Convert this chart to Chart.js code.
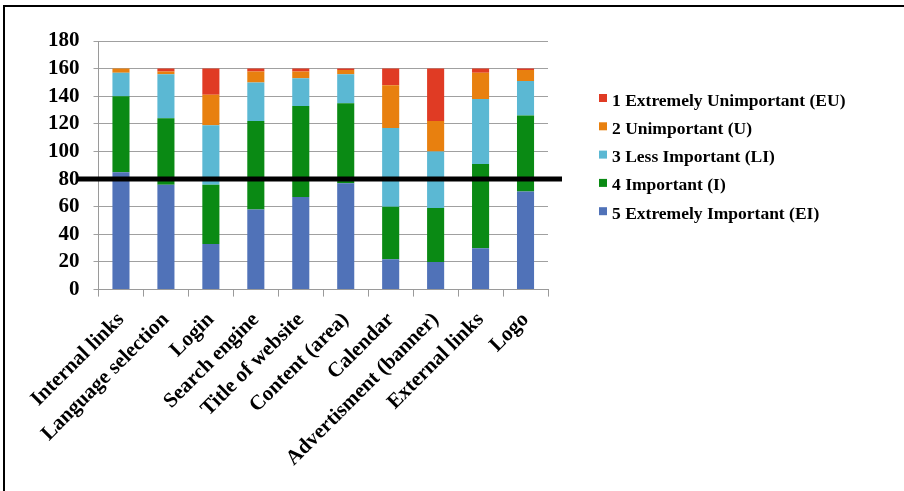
<!DOCTYPE html>
<html>
<head>
<meta charset="utf-8">
<script src="https://cdn.jsdelivr.net/npm/chart.js@4.4.1/dist/chart.umd.min.js"></script>
<style>
  html, body { margin: 0; padding: 0; background: #fff; }
  #wrap { position: relative; width: 904px; height: 491px; overflow: hidden; }
  #frame { position: absolute; left: 3px; top: 5px; width: 1000px; height: 600px;
           border-left: 2px solid #000; border-top: 2px solid #000; pointer-events: none; }
</style>
</head>
<body>
<div id="wrap">
  <canvas id="surveyChart"></canvas>
  <div id="frame"></div>
</div>
<script>
// categories (website elements)
const categories = ['Internal links', 'Language selection', 'Login', 'Search engine', 'Title of website',
  'Content (area)', 'Calendar', 'Advertisment (banner)', 'External links', 'Logo'];

// answers per importance level, bottom of stack first
const extremelyImportant = [85, 76, 33, 58, 67, 77, 22, 20, 30, 71];
const important = [55, 48, 43, 64, 66, 58, 38, 39, 61, 55];
const lessImportant = [17, 32, 43, 28, 20, 21, 57, 41, 47, 25];
const unimportant = [3, 2, 22, 8, 5, 3, 31, 22, 19, 8];
const extremelyUnimportant = [0, 2, 19, 2, 2, 1, 12, 38, 3, 1];

const yTicks = [0, 20, 40, 60, 80, 100, 120, 140, 160, 180];
const thresholdValue = 80;

const serif = '"Liberation Serif", "Times New Roman", serif';

// thick black reference line across the plot
const thresholdLine = {
  id: 'thresholdLine',
  afterDatasetsDraw(chart) {
    const c = chart.ctx;
    const area = chart.chartArea;
    const y = chart.scales.y.getPixelForValue(thresholdValue);
    c.save();
    c.strokeStyle = '#000';
    c.lineWidth = 5;
    c.beginPath();
    c.moveTo(area.left - 21, y);
    c.lineTo(area.right + 14, y);
    c.stroke();
    c.restore();
  }
};

// legend on the right, top item = top of the stack
const sideLegend = {
  id: 'sideLegend',
  afterDraw(chart) {
    const c = chart.ctx;
    const area = chart.chartArea;
    const sets = chart.data.datasets.slice().reverse();
    c.save();
    c.font = 'bold 17.5px ' + serif;
    c.textBaseline = 'middle';
    sets.forEach((ds, i) => {
      const y = area.top + 60 + i * 28.3;
      c.fillStyle = ds.backgroundColor;
      c.fillRect(area.right + 51, y - 7, 8, 8);
      c.fillStyle = '#000';
      c.fillText(ds.label, area.right + 64, y);
    });
    c.restore();
  }
};

var ctx = document.getElementById('surveyChart').getContext('2d');
var surveyChart = new Chart(ctx, {
    type: 'bar',
    data: {
        labels: categories,
        datasets: [
            { label: '5 Extremely Important (EI)', data: extremelyImportant, backgroundColor: '#5072b8' },
            { label: '4 Important (I)', data: important, backgroundColor: '#0a8a14' },
            { label: '3 Less Important (LI)', data: lessImportant, backgroundColor: '#5bb8d3' },
            { label: '2 Unimportant (U)', data: unimportant, backgroundColor: '#e8800f' },
            { label: '1 Extremely Unimportant (EU)', data: extremelyUnimportant, backgroundColor: '#e03b24' }
        ]
    },
    options: {
        responsive: true,
        maintainAspectRatio: false,
        animation: false,
        datasets: { bar: { categoryPercentage: 1, barPercentage: 0.38, borderWidth: 0 } },
        layout: { padding: { left: 34, top: 41, right: 356, bottom: 9 } },
        plugins: {
            tooltip: { enabled: false },
            legend: { display: false }
        },
        scales: {
            x: {
                stacked: true,
                grid: { drawOnChartArea: false, drawTicks: true, tickLength: 7, offset: true, color: '#9a9a9a' },
                border: { color: '#9a9a9a', width: 1 },
                ticks: {
                    maxRotation: 45, minRotation: 45, autoSkip: false, padding: 11,
                    color: '#000', font: { family: serif, size: 21, weight: 'bold' }
                }
            },
            y: {
                stacked: true,
                min: 0,
                max: 180,
                afterBuildTicks(scale) { scale.ticks = yTicks.map(v => ({ value: v })); },
                grid: { color: '#a0a0a0', tickLength: 5 },
                border: { color: '#9a9a9a', width: 1 },
                ticks: { padding: 14, autoSkip: false, color: '#000', font: { family: serif, size: 21, weight: 'bold' } }
            }
        }
    },
    plugins: [thresholdLine, sideLegend]
});
</script>
</body>
</html>
